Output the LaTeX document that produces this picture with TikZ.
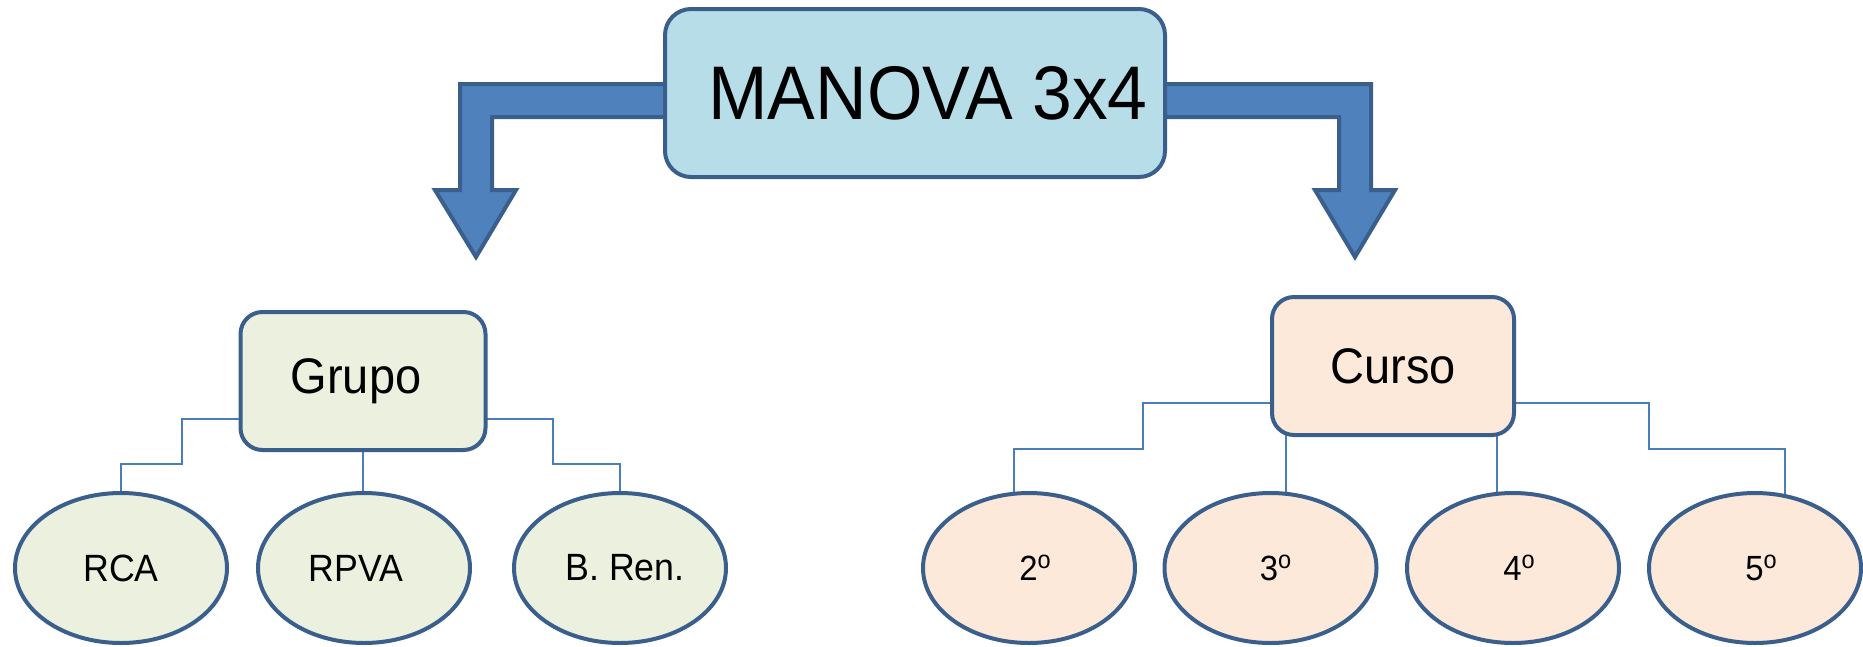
\documentclass[tikz,border=0pt]{standalone}
\usepackage{fontspec}
\setmainfont{Liberation Sans}[FakeStretch=0.94]
\usetikzlibrary{shapes.geometric}
\pgfdeclarelayer{background}
\pgfsetlayers{background,main}
\definecolor{edgeblue}{HTML}{3A5F8C}
\definecolor{arrowblue}{HTML}{4F81BD}
\definecolor{linkblue}{HTML}{4A7EBB}
\definecolor{topfill}{HTML}{B7DDE8}
\definecolor{greenfill}{HTML}{EBF1DE}
\definecolor{peachfill}{HTML}{FDE9D9}
% raised ordinal "o", top aligned with the digit
\newcommand{\ordo}{\raisebox{12.5pt}{\fontsize{25}{25}\selectfont o}}

\begin{document}
\begin{tikzpicture}[x=1pt,y=-1pt,
  box/.style={draw=edgeblue, line width=4pt, rounded corners=22pt, inner sep=0pt},
  oval/.style={ellipse, draw=edgeblue, line width=4pt, minimum width=212pt,
    minimum height=150pt, inner sep=0pt, font=\fontsize{38}{42}\selectfont},
  digitoval/.style={oval, fill=peachfill, font=\fontsize{35}{40}\selectfont},
  link/.style={draw=linkblue, line width=2pt},
  bigarrow/.style={fill=arrowblue, draw=edgeblue, line width=4pt, line join=miter}]
\useasboundingbox (0,0) rectangle (1863,646);

% main factor box
\node[box, fill=topfill, minimum width=500pt, minimum height=168pt,
  rounded corners=26pt, font=\fontsize{76}{82}\selectfont]
  (manova) at (915,93) {\hspace*{26pt}MANOVA 3x4};

% factor boxes
\node[box, fill=greenfill, minimum width=245pt, minimum height=138pt,
  font=\fontsize{50}{55}\selectfont] (grupo) at (363,381) {Grupo\hspace*{14pt}};
\node[box, fill=peachfill, minimum width=242pt, minimum height=138pt,
  font=\fontsize{50}{55}\selectfont] (curso) at (1393,366) {Curso};

% levels of Grupo
\node[oval, fill=greenfill] (rca) at (121,568) {RCA};
\node[oval, fill=greenfill] (rpva) at (364,568) {RPVA\hspace*{16pt}};
\node[oval, fill=greenfill] (bren) at (620,568) {\hspace*{10pt}\raisebox{-9pt}{B. Ren.}};

% levels of Curso
\node[digitoval] (c2) at (1029,568) {\hspace*{12pt}2\ordo};
\node[digitoval] (c3) at (1270.5,568) {\hspace*{10pt}\raisebox{-9pt}{3\ordo}};
\node[digitoval] (c4) at (1513,568) {\hspace*{12pt}\raisebox{-9pt}{4\ordo}};
\node[digitoval] (c5) at (1755,568) {\hspace*{12pt}\raisebox{-9pt}{5\ordo}};

\begin{pgfonlayer}{background}
  % bent block arrows out of the main box
  \draw[bigarrow] (manova.center |- 0,84) -- (460,84) -- (460,190) -- (435,190)
    -- (476,257) -- (516,190) -- (492,190) -- (492,117)
    -- (manova.center |- 0,117) -- cycle;
  \draw[bigarrow] (manova.center |- 0,84) -- (1371,84) -- (1371,190) -- (1395,190)
    -- (1355,257) -- (1315,190) -- (1339,190) -- (1339,117)
    -- (manova.center |- 0,117) -- cycle;

  % tree links under Grupo
  \draw[link] (grupo.center |- 0,419) -| (182,464) -| (rca.center);
  \draw[link] (grupo.center) -- (grupo.center |- rpva.center);
  \draw[link] (grupo.center |- 0,419) -| (552.6,464) -| (bren.center);

  % tree links under Curso
  \draw[link] (curso.center |- 0,403) -| (1142.6,449) -| (1013.6,0 |- c2.center);
  \draw[link] (1285.7,0 |- curso.center) -- (1285.7,0 |- c3.center);
  \draw[link] (1497,0 |- curso.center) -- (1497,0 |- c4.center);
  \draw[link] (curso.center |- 0,403) -| (1648.8,449) -| (1784.5,0 |- c5.center);
\end{pgfonlayer}
\end{tikzpicture}
\end{document}
